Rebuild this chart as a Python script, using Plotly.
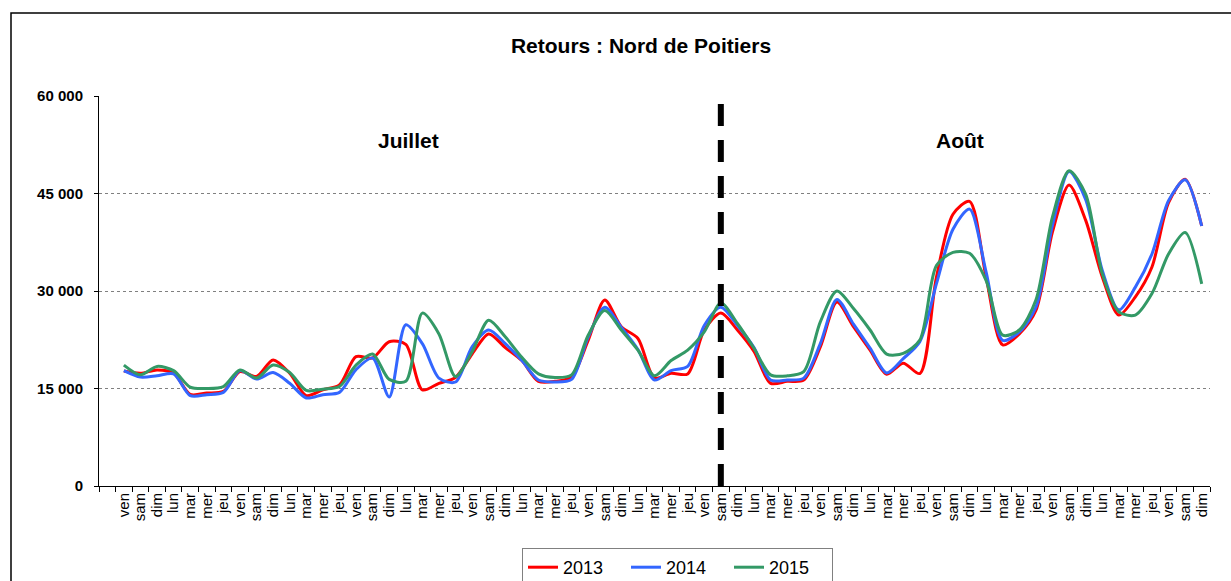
import plotly.graph_objects as go

days = ["ven", "sam", "dim", "lun", "mar", "mer", "jeu",
        "ven", "sam", "dim", "lun", "mar", "mer", "jeu",
        "ven", "sam", "dim", "lun", "mar", "mer", "jeu",
        "ven", "sam", "dim", "lun", "mar", "mer", "jeu",
        "ven", "sam", "dim", "lun", "mar", "mer", "jeu",
        "ven", "sam", "dim", "lun", "mar", "mer", "jeu",
        "ven", "sam", "dim", "lun", "mar", "mer", "jeu",
        "ven", "sam", "dim", "lun", "mar", "mer", "jeu",
        "ven", "sam", "dim", "lun", "mar", "mer", "jeu",
        "ven", "sam", "dim"]

y2013 = [17700, 17350, 17850, 17350, 14100, 14300, 14550, 17600, 16850, 19400,
         17350, 13900, 14800, 15550, 19900, 19700, 22200, 21800, 14800, 15800,
         16700, 20300, 23400, 21300, 19300, 16100, 16100, 16800, 22400, 28600,
         24500, 22700, 16600, 17350, 17250, 24000, 26600, 24000, 20700, 15800,
         16100, 16300, 21400, 28300, 24500, 20900, 17200, 18900, 17300, 32100,
         41800, 43800, 32100, 21700, 23400, 27000, 39100, 46300, 40900, 32200,
         26300, 29100, 33700, 43600, 47200, 40000]

y2014 = [17750, 16750, 16950, 17250, 13900, 14050, 14400, 17750, 16450, 17450,
         15800, 13550, 14050, 14400, 17900, 19700, 13700, 24800, 21900, 16600,
         16000, 21400, 24000, 21900, 19300, 16300, 16000, 16400, 22900, 27500,
         24400, 21000, 16300, 17750, 18400, 24700, 27500, 24700, 21300, 16300,
         16300, 16600, 21900, 28700, 24900, 21200, 17400, 19600, 22200, 31100,
         39500, 42600, 32900, 22400, 23700, 27500, 40100, 48400, 44100, 33200,
         27100, 30600, 35700, 43900, 47100, 40000]

y2015 = [18600, 17100, 18400, 17750, 15200, 15000, 15300, 17850, 16600, 18600,
         17450, 14700, 14900, 15300, 18600, 20300, 16400, 16100, 26600, 23400,
         16850, 20650, 25500, 22950, 19800, 17250, 16700, 17100, 23200, 27000,
         24000, 20900, 16950, 19300, 20900, 23700, 28150, 25000, 21200, 17100,
         16950, 17600, 25250, 30000, 27300, 24000, 20300, 20400, 22450, 33900,
         35950, 35800, 31600, 23200, 24000, 28600, 41400, 48500, 44900, 32700,
         26800, 26300, 29600, 35700, 39000, 31100]

series_names = ["2013", "2014", "2015"]
series_colors = ["#FF0000", "#3366FF", "#339966"]
y_ticks = [0, 15000, 30000, 45000, 60000]
y_ticktext = ["0", "15 000", "30 000", "45 000", "60 000"]
august_start = 36
month_labels = ["Juillet", "Août"]

FONT = "Liberation Sans, Arial, sans-serif"
x = list(range(len(days)))

fig = go.Figure()
for name, col, ys in zip(series_names, series_colors, [y2013, y2014, y2015]):
    fig.add_trace(go.Scatter(x=x, y=ys, name=name, mode="lines",
                             line=dict(color=col, width=3, shape="spline", smoothing=0.8)))

fig.add_trace(go.Scatter(x=[august_start, august_start], y=[y_ticks[0], y_ticks[-1]],
                         mode="lines", showlegend=False, hoverinfo="skip",
                         line=dict(color="black", width=6, dash="22px,14px")))

fig.update_layout(
    width=1231, height=581,
    margin=dict(l=99, r=21, t=96, b=95, autoexpand=False),
    paper_bgcolor="white", plot_bgcolor="white",
    font=dict(family=FONT, color="black"),
    title=dict(text="<b>Retours : Nord de Poitiers</b>", x=641 / 1231, xanchor="center",
               y=1 - 46 / 581, yanchor="middle", yref="container",
               font=dict(size=21, family=FONT, color="black")),
    showlegend=True,
    legend=dict(orientation="h", x=(522 - 99) / 1111, y=(486 - 548) / 390,
                xanchor="left", yanchor="top", bordercolor="#808080", borderwidth=1,
                bgcolor="white", font=dict(size=18, family=FONT, color="black"),
                traceorder="normal", entrywidth=58, entrywidthmode="pixels"),
    xaxis=dict(range=[-1.5, len(days) - 0.5], tickmode="array", tickvals=x, ticktext=days,
               tickangle=-90, ticks="", showgrid=False, zeroline=False,
               showline=True, linecolor="black", linewidth=1,
               tickfont=dict(size=15, family=FONT, color="black"),
               minor=dict(tick0=-0.5, dtick=1, ticks="outside", ticklen=5,
                          tickcolor="black", showgrid=False)),
    yaxis=dict(range=[0, 60000], tickmode="array", tickvals=y_ticks, ticktext=y_ticktext,
               showgrid=True, gridcolor="#808080", griddash="dot", gridwidth=1,
               zeroline=False, showline=True, linecolor="black", linewidth=1,
               ticks="outside", ticklen=4, tickcolor="black", ticklabelstandoff=8,
               tickfont=dict(size=15, family=FONT, color="black", weight="bold")),
    shapes=[dict(type="rect", xref="paper", yref="paper",
                 x0=(11 - 99) / 1111, x1=1.3, y0=-0.6, y1=(486 - 13) / 390,
                 line=dict(color="black", width=1.5), fillcolor="rgba(0,0,0,0)")],
    annotations=[
        dict(text="<b>" + month_labels[0] + "</b>", xref="paper", yref="y",
             x=(408 - 99) / 1111, y=53200, xanchor="center", yanchor="middle",
             showarrow=False, font=dict(size=21, family=FONT, color="black")),
        dict(text="<b>" + month_labels[1] + "</b>", xref="paper", yref="y",
             x=(960 - 99) / 1111, y=53200, xanchor="center", yanchor="middle",
             showarrow=False, font=dict(size=21, family=FONT, color="black")),
    ],
)

fig.write_html("out.html", config={"displayModeBar": False},
               post_script="document.body.style.margin='0';")
